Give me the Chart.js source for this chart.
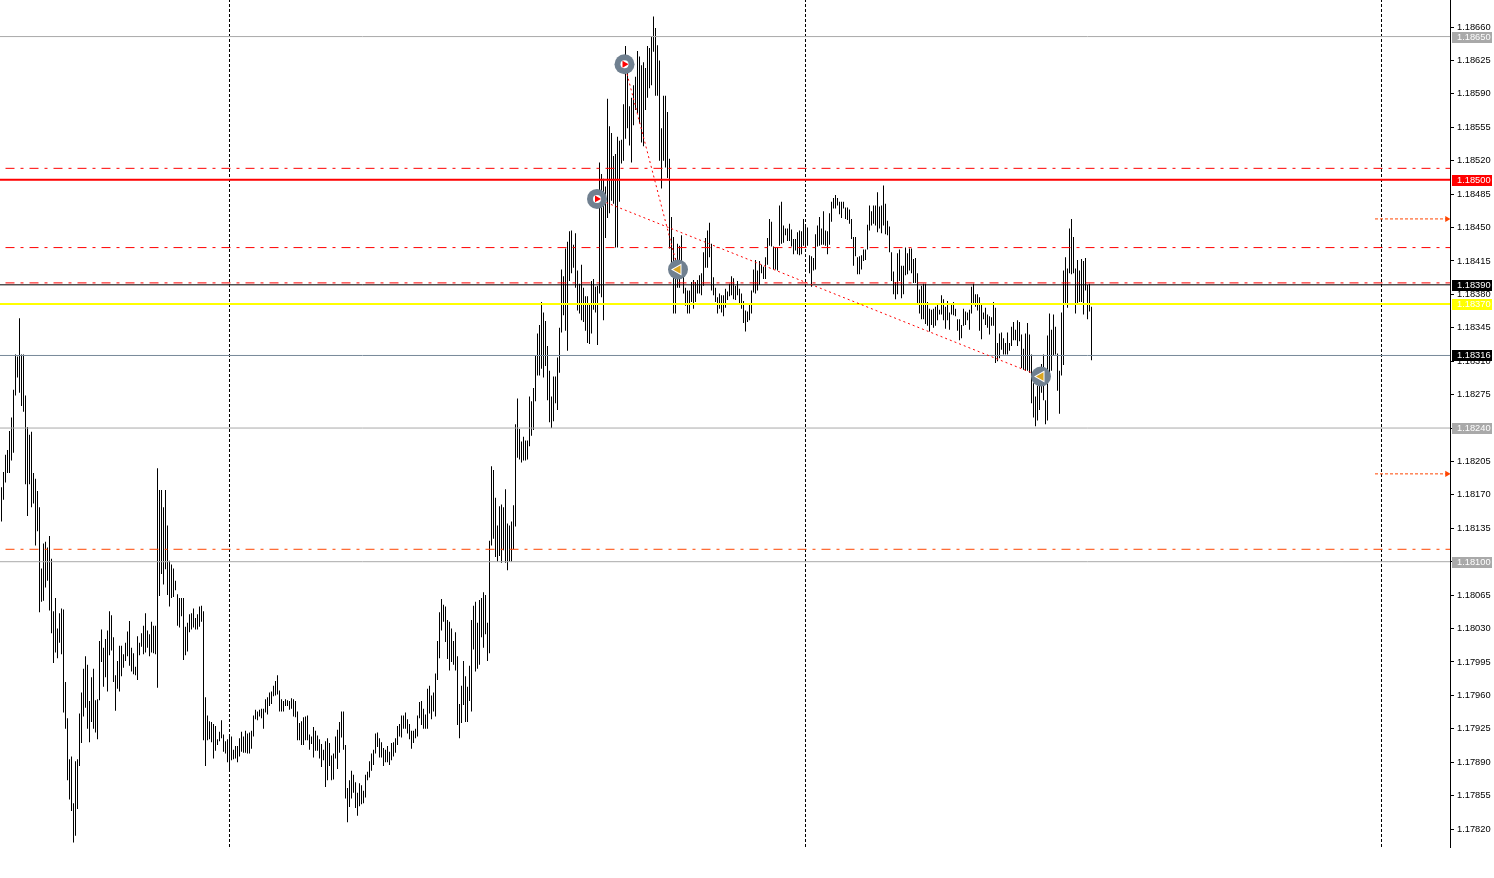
<!DOCTYPE html>
<html>
<head>
<meta charset="utf-8">
<title>Price chart</title>
<style>
    html, body { margin: 0; padding: 0; background: #fff; overflow: hidden; }
    canvas { display: block; }
</style>
<script src="https://cdn.jsdelivr.net/npm/chart.js"></script>
</head>
<body>
<canvas id="chart" width="1494" height="878"></canvas>
<script>
"use strict"


const highs = [
1.18178,1.18194,1.18212,1.18217,1.18237,1.18251,1.18280,1.18317,1.18315,1.18355,1.18317,1.18317,1.18274,1.18241,1.18233,1.18236,1.18193,1.18187,1.18174,1.18157,
1.18093,1.18119,1.18121,1.18115,1.18127,1.18103,1.18048,1.18062,1.18030,1.18046,1.18051,1.18050,1.17974,1.17936,1.17893,1.17896,1.17847,1.17891,1.17893,1.17941,
1.17963,1.17988,1.18001,1.17992,1.17954,1.17979,1.17988,1.17955,1.17956,1.18017,1.18029,1.18010,1.18019,1.18028,1.18048,1.18044,1.18021,1.17981,1.17996,1.18012,
1.18012,1.18003,1.18015,1.18027,1.18038,1.18010,1.18004,1.17990,1.18022,1.18015,1.18025,1.18033,1.18046,1.18028,1.18024,1.18037,1.18033,1.18033,1.18198,1.18175,
1.18175,1.18157,1.18175,1.18138,1.18101,1.18097,1.18093,1.18080,1.18066,1.18062,1.18062,1.18062,1.18032,1.18036,1.18045,1.18046,1.18051,1.18041,1.18045,1.18053,
1.18054,1.18048,1.17958,1.17939,1.17933,1.17932,1.17930,1.17928,1.17914,1.17922,1.17934,1.17919,1.17912,1.17914,1.17917,1.17917,1.17903,1.17907,1.17907,1.17915,
1.17922,1.17917,1.17923,1.17920,1.17921,1.17923,1.17939,1.17945,1.17943,1.17945,1.17946,1.17946,1.17956,1.17958,1.17963,1.17964,1.17970,1.17975,1.17981,1.17965,
1.17956,1.17954,1.17956,1.17955,1.17954,1.17957,1.17956,1.17954,1.17943,1.17931,1.17933,1.17937,1.17938,1.17939,1.17919,1.17917,1.17927,1.17923,1.17918,1.17914,
1.17909,1.17903,1.17912,1.17915,1.17910,1.17897,1.17899,1.17917,1.17924,1.17932,1.17943,1.17943,1.17908,1.17863,1.17871,1.17881,1.17877,1.17869,1.17858,1.17868,
1.17866,1.17860,1.17877,1.17880,1.17891,1.17899,1.17903,1.17920,1.17921,1.17915,1.17911,1.17905,1.17903,1.17907,1.17901,1.17910,1.17911,1.17915,1.17928,1.17930,
1.17939,1.17939,1.17942,1.17935,1.17930,1.17923,1.17923,1.17925,1.17939,1.17953,1.17954,1.17946,1.17940,1.17967,1.17970,1.17960,1.17963,1.17983,1.18017,1.18047,
1.18061,1.18055,1.18053,1.18039,1.18037,1.18030,1.18017,1.18026,1.18001,1.17951,1.17970,1.17996,1.17980,1.17969,1.17991,1.18039,1.18054,1.18058,1.18036,1.18060,
1.18062,1.18068,1.18065,1.18036,1.18122,1.18200,1.18196,1.18167,1.18138,1.18158,1.18160,1.18157,1.18176,1.18140,1.18138,1.18142,1.18159,1.18244,1.18271,1.18239,
1.18226,1.18231,1.18227,1.18227,1.18273,1.18268,1.18282,1.18316,1.18339,1.18348,1.18372,1.18361,1.18352,1.18326,1.18300,1.18273,1.18294,1.18294,1.18314,1.18345,
1.18406,1.18399,1.18428,1.18435,1.18446,1.18447,1.18432,1.18444,1.18405,1.18391,1.18411,1.18387,1.18378,1.18378,1.18371,1.18394,1.18396,1.18388,1.18389,1.18518,
1.18506,1.18501,1.18493,1.18585,1.18556,1.18549,1.18525,1.18527,1.18545,1.18541,1.18542,1.18579,1.18640,1.18630,1.18577,1.18586,1.18599,1.18608,1.18635,1.18629,
1.18620,1.18623,1.18617,1.18640,1.18638,1.18650,1.18671,1.18659,1.18641,1.18625,1.18554,1.18588,1.18588,1.18571,1.18522,1.18461,1.18440,1.18418,1.18433,1.18431,
1.18442,1.18412,1.18387,1.18384,1.18384,1.18393,1.18395,1.18393,1.18395,1.18400,1.18402,1.18424,1.18439,1.18447,1.18455,1.18433,1.18398,1.18387,1.18377,1.18381,
1.18379,1.18379,1.18386,1.18383,1.18391,1.18399,1.18397,1.18389,1.18394,1.18386,1.18381,1.18373,1.18363,1.18362,1.18371,1.18384,1.18406,1.18416,1.18405,1.18415,
1.18411,1.18409,1.18419,1.18439,1.18459,1.18456,1.18430,1.18429,1.18429,1.18473,1.18477,1.18452,1.18449,1.18449,1.18454,1.18448,1.18438,1.18438,1.18445,1.18447,
1.18446,1.18459,1.18451,1.18450,1.18421,1.18420,1.18418,1.18443,1.18452,1.18461,1.18449,1.18467,1.18447,1.18446,1.18465,1.18477,1.18481,1.18484,1.18481,1.18477,
1.18477,1.18477,1.18471,1.18471,1.18469,1.18459,1.18440,1.18440,1.18419,1.18420,1.18421,1.18427,1.18427,1.18453,1.18473,1.18467,1.18473,1.18473,1.18487,1.18472,
1.18473,1.18494,1.18475,1.18457,1.18451,1.18424,1.18404,1.18393,1.18423,1.18427,1.18410,1.18410,1.18429,1.18423,1.18428,1.18428,1.18417,1.18418,1.18402,1.18385,
1.18389,1.18391,1.18391,1.18372,1.18365,1.18364,1.18365,1.18367,1.18370,1.18364,1.18379,1.18375,1.18367,1.18373,1.18361,1.18369,1.18372,1.18365,1.18354,1.18354,
1.18348,1.18365,1.18362,1.18361,1.18364,1.18388,1.18391,1.18380,1.18380,1.18377,1.18370,1.18361,1.18366,1.18359,1.18357,1.18356,1.18372,1.18366,1.18329,1.18339,
1.18340,1.18334,1.18329,1.18340,1.18329,1.18346,1.18351,1.18343,1.18353,1.18351,1.18338,1.18323,1.18339,1.18350,1.18338,1.18317,1.18287,1.18273,1.18284,1.18296,
1.18307,1.18317,1.18269,1.18337,1.18360,1.18343,1.18359,1.18346,1.18318,1.18300,1.18361,1.18405,1.18419,1.18407,1.18449,1.18459,1.18440,1.18407,1.18416,1.18405,
1.18417,1.18415,1.18418,1.18390,1.18391,1.18367
];

const lows = [
1.18142,1.18165,1.18183,1.18193,1.18193,1.18206,1.18214,1.18274,1.18293,1.18277,1.18263,1.18257,1.18181,1.18148,1.18181,1.18157,1.18161,1.18117,1.18132,1.18047,
1.18058,1.18059,1.18073,1.18080,1.18049,1.18025,1.17994,1.18005,1.17999,1.18015,1.18003,1.17942,1.17925,1.17871,1.17851,1.17839,1.17806,1.17813,1.17841,1.17886,
1.17910,1.17938,1.17947,1.17925,1.17911,1.17932,1.17925,1.17921,1.17914,1.17955,1.17995,1.17969,1.17979,1.17964,1.18002,1.18007,1.17974,1.17944,1.17967,1.17964,
1.17980,1.17989,1.17996,1.18001,1.17991,1.17985,1.17982,1.17981,1.17976,1.18002,1.18011,1.18003,1.18005,1.18010,1.18001,1.18005,1.18004,1.18003,1.17968,1.18064,
1.18087,1.18076,1.18092,1.18065,1.18053,1.18062,1.18063,1.18070,1.18033,1.18031,1.18043,1.17997,1.18002,1.18006,1.18026,1.18029,1.18031,1.18029,1.18029,1.18032,
1.18037,1.17913,1.17886,1.17913,1.17914,1.17911,1.17894,1.17902,1.17908,1.17912,1.17915,1.17901,1.17899,1.17890,1.17881,1.17892,1.17893,1.17894,1.17890,1.17896,
1.17901,1.17900,1.17900,1.17899,1.17899,1.17904,1.17917,1.17935,1.17934,1.17938,1.17936,1.17925,1.17942,1.17940,1.17949,1.17951,1.17959,1.17960,1.17961,1.17943,
1.17943,1.17943,1.17949,1.17949,1.17945,1.17946,1.17938,1.17937,1.17913,1.17913,1.17908,1.17908,1.17913,1.17913,1.17903,1.17909,1.17895,1.17902,1.17902,1.17894,
1.17885,1.17892,1.17864,1.17871,1.17886,1.17871,1.17872,1.17894,1.17883,1.17900,1.17916,1.17903,1.17852,1.17827,1.17843,1.17852,1.17858,1.17842,1.17834,1.17844,
1.17846,1.17847,1.17853,1.17871,1.17874,1.17881,1.17887,1.17899,1.17906,1.17895,1.17895,1.17886,1.17890,1.17890,1.17887,1.17892,1.17896,1.17900,1.17908,1.17917,
1.17916,1.17925,1.17925,1.17920,1.17914,1.17904,1.17910,1.17915,1.17917,1.17936,1.17929,1.17925,1.17925,1.17925,1.17941,1.17935,1.17943,1.17938,1.17976,1.17999,
1.18028,1.18037,1.18016,1.17998,1.17986,1.17995,1.17992,1.17986,1.17929,1.17915,1.17931,1.17950,1.17932,1.17932,1.17954,1.17943,1.18008,1.17985,1.17988,1.17992,
1.18021,1.18010,1.18024,1.17996,1.18004,1.18117,1.18124,1.18105,1.18100,1.18106,1.18099,1.18112,1.18099,1.18091,1.18100,1.18100,1.18113,1.18137,1.18209,1.18207,
1.18204,1.18206,1.18206,1.18207,1.18221,1.18232,1.18238,1.18268,1.18295,1.18295,1.18302,1.18293,1.18305,1.18269,1.18246,1.18240,1.18247,1.18266,1.18259,1.18298,
1.18340,1.18358,1.18342,1.18321,1.18394,1.18402,1.18408,1.18387,1.18363,1.18360,1.18353,1.18351,1.18342,1.18329,1.18328,1.18339,1.18364,1.18361,1.18327,1.18381,
1.18377,1.18353,1.18439,1.18460,1.18465,1.18478,1.18475,1.18429,1.18429,1.18477,1.18517,1.18520,1.18543,1.18554,1.18536,1.18518,1.18557,1.18573,1.18570,1.18559,
1.18539,1.18535,1.18573,1.18586,1.18596,1.18599,1.18634,1.18588,1.18588,1.18520,1.18491,1.18520,1.18513,1.18502,1.18428,1.18410,1.18360,1.18360,1.18387,1.18387,
1.18397,1.18381,1.18368,1.18360,1.18360,1.18372,1.18365,1.18372,1.18381,1.18381,1.18379,1.18389,1.18408,1.18408,1.18419,1.18384,1.18379,1.18372,1.18360,1.18365,
1.18361,1.18357,1.18366,1.18374,1.18378,1.18379,1.18375,1.18374,1.18379,1.18370,1.18365,1.18350,1.18341,1.18351,1.18353,1.18360,1.18382,1.18381,1.18384,1.18390,
1.18402,1.18396,1.18396,1.18411,1.18431,1.18430,1.18406,1.18406,1.18405,1.18431,1.18433,1.18434,1.18442,1.18436,1.18436,1.18430,1.18422,1.18426,1.18422,1.18421,
1.18422,1.18431,1.18431,1.18431,1.18402,1.18388,1.18405,1.18406,1.18430,1.18431,1.18432,1.18432,1.18431,1.18422,1.18432,1.18456,1.18470,1.18470,1.18473,1.18464,
1.18460,1.18470,1.18459,1.18458,1.18454,1.18438,1.18410,1.18420,1.18401,1.18401,1.18406,1.18415,1.18416,1.18427,1.18447,1.18452,1.18454,1.18452,1.18445,1.18449,
1.18444,1.18452,1.18443,1.18442,1.18424,1.18394,1.18380,1.18375,1.18380,1.18394,1.18376,1.18380,1.18400,1.18401,1.18405,1.18402,1.18392,1.18392,1.18371,1.18360,
1.18354,1.18354,1.18349,1.18347,1.18341,1.18348,1.18345,1.18347,1.18353,1.18359,1.18359,1.18353,1.18344,1.18353,1.18343,1.18359,1.18358,1.18357,1.18342,1.18332,
1.18334,1.18347,1.18348,1.18353,1.18343,1.18360,1.18369,1.18367,1.18363,1.18342,1.18333,1.18354,1.18348,1.18345,1.18338,1.18347,1.18347,1.18308,1.18310,1.18313,
1.18322,1.18317,1.18317,1.18317,1.18321,1.18326,1.18332,1.18332,1.18326,1.18331,1.18303,1.18301,1.18300,1.18300,1.18298,1.18266,1.18251,1.18242,1.18248,1.18259,
1.18277,1.18269,1.18244,1.18248,1.18290,1.18300,1.18316,1.18317,1.18279,1.18255,1.18295,1.18306,1.18370,1.18366,1.18402,1.18401,1.18402,1.18360,1.18371,1.18372,
1.18372,1.18359,1.18384,1.18354,1.18362,1.18311
];

const yTicks = [
1.18660,1.18625,1.18590,1.18555,1.18520,1.18485,1.18450,1.18415,1.18380,1.18345,1.18310,1.18275,1.18240,1.18205,1.18170,1.18135,1.18100,
1.18065,1.18030,1.17995,1.17960,1.17925,1.17890,1.17855,1.17820
];

const separatorBars = [114, 402, 690];

const grayLevels = [1.18650, 1.18240, 1.18100];
const redLevel = 1.18500;
const blackLevel = 1.18390;
const yellowLevel = 1.18370;
const bidLevel = 1.18316;
const redDashLevels = [1.18512, 1.18429, 1.18392];
const orangeDashLevel = 1.18113;

const arrowBars = [686.75, 722.75];
const arrowPrices = [1.18459, 1.18192];

const tradeBars = [311.5, 338.25, 297.75, 519.75];
const tradePrices = [1.18621, 1.18406, 1.18480, 1.18294];

const tagPrices = [1.18650, 1.18500, 1.18390, 1.18370, 1.18316, 1.18240, 1.18100];
const tagColors = ['#a9a9a9', '#ff0000', '#000000', '#ffff00', '#000000', '#a9a9a9', '#a9a9a9'];

const axisFont = { family: '"Liberation Sans", Arial, sans-serif', size: 9.3 };
const priceMax = 1.186883;
const priceMin = 1.178012;
const barMin = -0.75;
const barMax = 724.25;


function levelLine(price, color, width, dash, fromBar)
{
    return {
        type: 'line',
        data: [{ x: fromBar, y: price }, { x: barMax, y: price }],
        borderColor: color,
        borderWidth: width,
        borderDash: dash,
        pointRadius: 0,
        order: 2
    };
}


function separatorLine(bar)
{
    return {
        type: 'line',
        data: [{ x: bar, y: priceMin }, { x: bar, y: priceMax }],
        borderColor: '#000000',
        borderWidth: 1,
        borderDash: [3, 2],
        pointRadius: 0,
        order: 3
    };
}


function tradeLine(a, b)
{
    return {
        type: 'line',
        data: [{ x: tradeBars[a], y: tradePrices[a] }, { x: tradeBars[b], y: tradePrices[b] }],
        borderColor: '#ff0000',
        borderWidth: 1,
        borderDash: [2, 3],
        pointRadius: 0,
        order: 1
    };
}


function arrowLine(price)
{
    return {
        type: 'line',
        data: [{ x: arrowBars[0], y: price }, { x: arrowBars[1], y: price }],
        borderColor: '#ff4500',
        borderWidth: 1,
        borderDash: [3, 2],
        pointRadius: [0, 3.5],
        pointStyle: 'triangle',
        pointRotation: 90,
        pointBackgroundColor: '#ff4500',
        pointBorderWidth: 0,
        order: 1
    };
}


function tradeMark(a, style, radius, color, rotation, order)
{
    return {
        type: 'scatter',
        data: [{ x: tradeBars[a], y: tradePrices[a] }],
        pointStyle: style,
        pointRadius: radius,
        pointRotation: rotation,
        pointBackgroundColor: color,
        pointBorderWidth: 0,
        order: order
    };
}


// lower order is painted later, so the glyphs land on the disc
function tradeMarks(a, isEntry)
{
    if (isEntry)
    {
        return [
            tradeMark(a, 'circle', 10, '#708090', 0, 0),
            tradeMark(a, 'circle', 4, '#ffffff', 0, -1),
            tradeMark(a, 'triangle', 4, '#ff0000', 90, -2)
        ];
    }

    return [
        tradeMark(a, 'circle', 10, '#708090', 0, 0),
        tradeMark(a, 'triangle', 7, '#ffffff', -90, -1),
        tradeMark(a, 'triangle', 5, '#daa520', -90, -2)
    ];
}


// price tags sitting on top of the right axis
const priceTags =
{
    id: 'priceTags',
    afterDraw(chart)
    {
        const ctx = chart.ctx;
        const scale = chart.scales.y;

        ctx.save();
        ctx.font = axisFont.size + 'px ' + axisFont.family;
        ctx.textBaseline = 'middle';

        tagPrices.forEach((price, i) =>
        {
            const y = Math.round(scale.getPixelForValue(price));

            ctx.fillStyle = tagColors[i];
            ctx.fillRect(1452, y - 5, 40, 11);
            ctx.fillStyle = '#ffffff';
            ctx.fillText(price.toFixed(5), 1457, y + 0.5);
        });

        ctx.restore();
    }
};


window.onload = () =>
{
    const barData = highs.map((high, i) => ({ x: i, y: [lows[i], high] }));

    const datasets =
    [
        {
            type: 'bar',
            data: barData,
            backgroundColor: '#000000',
            borderWidth: 0,
            barThickness: 1,
            inflateAmount: 0,
            order: 4
        },
        ...separatorBars.map(separatorLine),
        ...grayLevels.map(price => levelLine(price, '#a9a9a9', 1, [], barMin)),
        levelLine(redLevel, '#ff0000', 2, [], barMin),
        levelLine(blackLevel, '#000000', 1, [], barMin),
        levelLine(yellowLevel, '#ffff00', 2, [], barMin),
        levelLine(bidLevel, '#778899', 1, [], barMin),
        ...redDashLevels.map(price => levelLine(price, '#ff0000', 1, [9, 6, 3, 6], 2)),
        levelLine(orangeDashLevel, '#ff4500', 1, [9, 6, 3, 6], 2),
        ...arrowPrices.map(arrowLine),
        tradeLine(0, 1),
        tradeLine(2, 3),
        ...tradeMarks(0, true),
        ...tradeMarks(2, true),
        ...tradeMarks(1, false),
        ...tradeMarks(3, false)
    ];

    new Chart(document.getElementById('chart').getContext('2d'),
    {
        data: { datasets: datasets },
        options:
        {
            responsive: false,
            animation: false,
            layout: { autoPadding: false, padding: { left: 0, top: 0, right: 0, bottom: 31 } },
            plugins:
            {
                legend: { display: false },
                tooltip: { enabled: false }
            },
            scales:
            {
                x:
                {
                    type: 'linear',
                    display: false,
                    offset: false,
                    min: barMin,
                    max: barMax
                },
                y:
                {
                    position: 'right',
                    min: priceMin,
                    max: priceMax,
                    afterBuildTicks: scale => { scale.ticks = yTicks.map(value => ({ value: value })); },
                    afterFit: scale =>
                    {
                        scale.width = 44;
                        scale.paddingTop = 0;
                        scale.paddingBottom = 0;
                    },
                    border: { color: '#000000', width: 1 },
                    grid: { drawOnChartArea: false, drawTicks: true, tickLength: 4, color: '#000000' },
                    ticks:
                    {
                        autoSkip: false,
                        maxRotation: 0,
                        padding: 3,
                        color: '#000000',
                        font: axisFont,
                        callback: value => value.toFixed(5)
                    }
                }
            }
        },
        plugins: [priceTags]
    });
}
</script>
</body>
</html>
